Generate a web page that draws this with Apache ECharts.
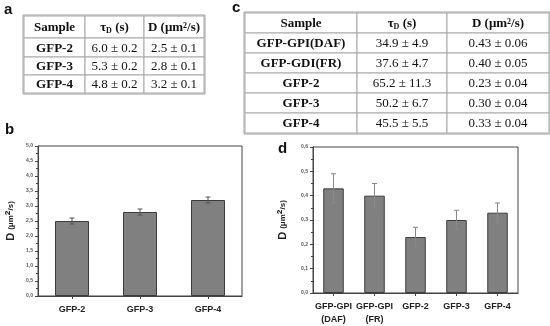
<!DOCTYPE html>
<html>
<head>
<meta charset="utf-8">
<script src="https://cdn.jsdelivr.net/npm/echarts@6/dist/echarts.min.js"></script>
<style>
  html, body { margin: 0; padding: 0; background: #fff; }
  #main { width: 550px; height: 326px; }
</style>
</head>
<body>
<div id="main"></div>
<script>
// table a / chart b
var samplesA = ['GFP-2', 'GFP-3', 'GFP-4'];
var tauA = [6.0, 5.3, 4.8];
var tauErrA = [0.2, 0.2, 0.2];
var dA = [2.5, 2.8, 3.2];
var dErrA = [0.1, 0.1, 0.1];

// table c / chart d
var samplesC = ['GFP-GPI(DAF)', 'GFP-GDI(FR)', 'GFP-2', 'GFP-3', 'GFP-4'];
var tauC = [34.9, 37.6, 65.2, 50.2, 45.5];
var tauErrC = [4.9, 4.7, 11.3, 6.7, 5.5];
var dC = [0.43, 0.40, 0.23, 0.30, 0.33];
var dErrC = [0.06, 0.05, 0.04, 0.04, 0.04];
var catsD = ['GFP-GPI\n(DAF)', 'GFP-GPI\n(FR)', 'GFP-2', 'GFP-3', 'GFP-4'];

var chart = echarts.init(document.getElementById('main'));

var serif = '"Liberation Serif", "DejaVu Serif", serif';
var sans = '"Liberation Sans", Arial, sans-serif';

var headRich = {
  sub: { fontSize: 8, fontWeight: 'bold', fontFamily: serif, lineHeight: 8, verticalAlign: 'bottom', fill: '#111' },
  sup: { fontSize: 8, fontWeight: 'bold', fontFamily: serif, lineHeight: 8, verticalAlign: 'top', fill: '#111' }
};

function fmt(v, e, d) {
  return v.toFixed(d) + ' \u00b1 ' + e.toFixed(d);
}

function cellText(x, y, txt, bold) {
  return {
    type: 'text',
    z: 10,
    style: {
      x: x, y: y, text: txt,
      font: (bold ? 'bold ' : '') + '13px ' + serif,
      fill: '#111',
      align: 'center', verticalAlign: 'middle',
      textAlign: 'center', textVerticalAlign: 'middle',
      rich: headRich
    }
  };
}

function table(colX, rowY, rows) {
  var els = [];
  for (var r = 0; r < rowY.length - 1; r++) {
    for (var c = 0; c < colX.length - 1; c++) {
      els.push({
        type: 'rect',
        shape: { x: colX[c], y: rowY[r], width: colX[c + 1] - colX[c], height: rowY[r + 1] - rowY[r] },
        style: { fill: '#fff', stroke: '#a8a8a8', lineWidth: 1 }
      });
      els.push(cellText((colX[c] + colX[c + 1]) / 2, (rowY[r] + rowY[r + 1]) / 2 + 1, rows[r][c], r === 0 || c === 0));
    }
  }
  els.push({
    type: 'rect', z: 5,
    shape: { x: colX[0] - 1, y: rowY[0] - 1, width: colX[colX.length - 1] - colX[0] + 2, height: rowY[rowY.length - 1] - rowY[0] + 2 },
    style: { fill: 'none', stroke: '#a0a0a0', lineWidth: 1 }
  });
  return els;
}

var header = ['Sample', '\u03c4{sub|D} (s)', 'D (\u03bcm{sup|2}/s)'];
var rowsA = [header];
samplesA.forEach(function (s, i) { rowsA.push([s, fmt(tauA[i], tauErrA[i], 1), fmt(dA[i], dErrA[i], 1)]); });
var rowsC = [header];
samplesC.forEach(function (s, i) { rowsC.push([s, fmt(tauC[i], tauErrC[i], 1), fmt(dC[i], dErrC[i], 2)]); });

function letter(x, y, t) {
  return { type: 'text', style: { x: x, y: y, text: t, font: 'bold 15px ' + sans, fill: '#111' } };
}

var graphics = []
  .concat(table([24, 85, 144, 204], [16, 38, 57, 75, 93], rowsA))
  .concat(table([245, 357, 447, 549], [13, 33, 53, 73, 93, 113, 133], rowsC))
  .concat([letter(4, 2, 'a'), letter(232, 0, 'c'), letter(5, 122, 'b'), letter(278, 141, 'd')]);

function comma(v) { return v.toFixed(1).replace('.', ','); }

var nameRich = {
  a: { fontSize: 11, fontWeight: 'bold', fontFamily: sans, color: '#222' },
  b: { fontSize: 8, fontWeight: 'bold', fontFamily: sans, color: '#222' },
  c: { fontSize: 14, fontWeight: 'bold', fontFamily: sans, color: '#222' }
};

function yAxis(gi, max, interval, gap) {
  return {
    type: 'value', gridIndex: gi, min: 0, max: max, interval: interval,
    name: '{a|D }{b|(\u03bcm}{c|\u00b2}{b|/s)}',
    nameLocation: 'middle', nameGap: gap, nameRotate: 90,
    nameTextStyle: { rich: nameRich },
    axisLine: { show: true, lineStyle: { color: '#444', width: 1 } },
    axisTick: { show: true, inside: false, length: 3, lineStyle: { color: '#444' } },
    minorTick: { show: true, splitNumber: 2, length: 2, lineStyle: { color: '#444' } },
    splitLine: { show: false },
    axisLabel: {
      fontSize: 5, fontWeight: 'bold', fontFamily: sans, color: '#555', margin: 5,
      formatter: function (v) { return comma(v); }
    }
  };
}

function xAxis(gi, cats) {
  return {
    type: 'category', gridIndex: gi, data: cats,
    axisLine: { show: true, lineStyle: { color: '#444', width: 1 } },
    axisTick: { show: true, alignWithLabel: true, length: 3, lineStyle: { color: '#444' } },
    axisLabel: { fontSize: 9, fontWeight: 'bold', fontFamily: sans, color: '#222', margin: 7, lineHeight: 13, interval: 0 }
  };
}

function errSeries(gi, vals, errs, color) {
  return {
    type: 'custom', xAxisIndex: gi, yAxisIndex: gi, z: 5,
    data: vals.map(function (v, i) { return [i, v - errs[i], v + errs[i]]; }),
    renderItem: function (params, api) {
      var lo = api.coord([api.value(0), api.value(1)]);
      var hi = api.coord([api.value(0), api.value(2)]);
      var w = 2.5;
      var st = { stroke: color, lineWidth: 1 };
      return {
        type: 'group',
        children: [
          { type: 'line', shape: { x1: lo[0], y1: lo[1], x2: hi[0], y2: hi[1] }, style: st },
          { type: 'line', shape: { x1: lo[0] - w, y1: lo[1], x2: lo[0] + w, y2: lo[1] }, style: st },
          { type: 'line', shape: { x1: hi[0] - w, y1: hi[1], x2: hi[0] + w, y2: hi[1] }, style: st }
        ]
      };
    }
  };
}

var barStyle = { color: '#808080', borderColor: '#3c3c3c', borderWidth: 1 };

chart.setOption({
  animation: false,
  backgroundColor: '#fff',
  graphic: graphics,
  grid: [
    { left: 38, right: 308, top: 146, bottom: 30, show: true, borderColor: '#444', borderWidth: 1, backgroundColor: 'transparent' },
    { left: 313, right: 32, top: 147, bottom: 30, show: true, borderColor: '#444', borderWidth: 1, backgroundColor: 'transparent' }
  ],
  xAxis: [xAxis(0, samplesA), xAxis(1, catsD)],
  yAxis: [yAxis(0, 5, 0.5, 20), yAxis(1, 0.6, 0.1, 23)],
  series: [
    { type: 'bar', xAxisIndex: 0, yAxisIndex: 0, data: dA, barWidth: '50%', itemStyle: barStyle },
    errSeries(0, dA, dErrA, '#555'),
    { type: 'bar', xAxisIndex: 1, yAxisIndex: 1, data: dC, barWidth: '50%', itemStyle: barStyle },
    errSeries(1, dC, dErrC, '#888')
  ]
});
</script>
</body>
</html>
